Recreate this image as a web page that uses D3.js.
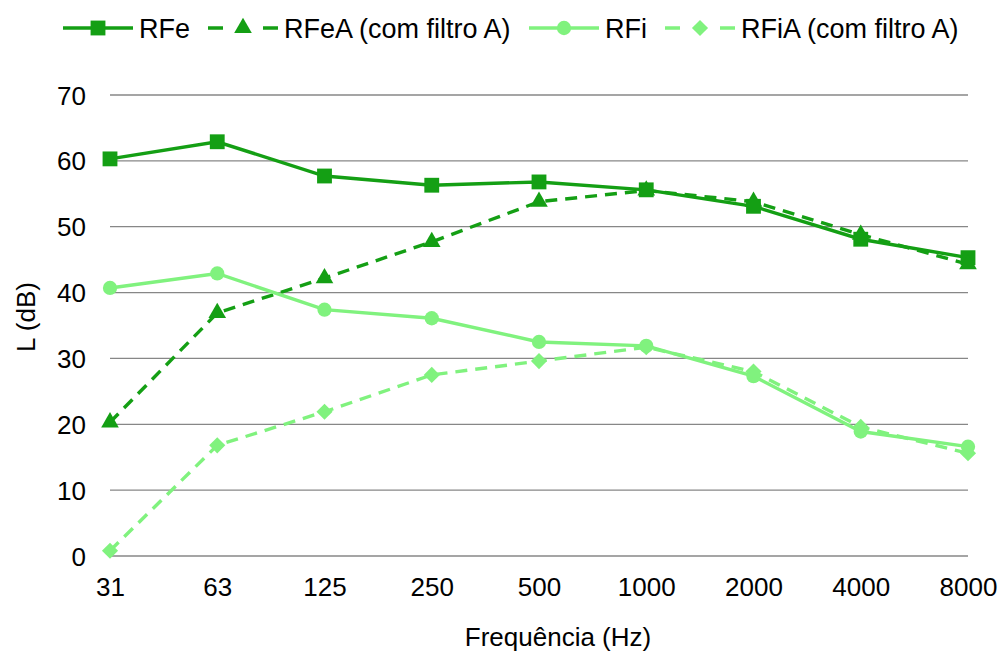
<!DOCTYPE html>
<html><head><meta charset="utf-8">
<script src="https://cdn.jsdelivr.net/npm/d3@7"></script>
<style>body{margin:0;background:#fff;}svg{display:block;font-family:"Liberation Sans",Arial,sans-serif;}</style>
</head><body>
<svg id="c" width="1000" height="651"></svg>
<script>
const categories = ["31","63","125","250","500","1000","2000","4000","8000"];
const rfe  = [60.3, 62.9, 57.7, 56.3, 56.8, 55.6, 53.1, 48.1, 45.3];
const rfeA = [20.3, 36.9, 42.2, 47.7, 53.8, 55.5, 53.8, 48.8, 44.3];
const rfi  = [40.7, 42.9, 37.4, 36.1, 32.5, 31.9, 27.3, 18.9, 16.6];
const rfiA = [0.8, 16.8, 21.9, 27.5, 29.6, 31.7, 28.0, 19.6, 15.6];
const yTicks = [0,10,20,30,40,50,60,70];
const seriesNames = ["RFe","RFeA (com filtro A)","RFi","RFiA (com filtro A)"];

const dark = "#149f14", light = "#80f27e";
const FONT = "Liberation Sans, Arial, sans-serif";
const series = [
  {name: seriesNames[0], values: rfe,  color: dark,  dash: null,   sym: d3.symbolSquare,   size: 220, rot: 0},
  {name: seriesNames[1], values: rfeA, color: dark,  dash: "12,8", sym: d3.symbolTriangle, size: 135, rot: 0},
  {name: seriesNames[2], values: rfi,  color: light, dash: null,   sym: d3.symbolCircle,   size: 160, rot: 0},
  {name: seriesNames[3], values: rfiA, color: light, dash: "12,8", sym: d3.symbolSquare,   size: 130, rot: 45}
];

const svg = d3.select("#c");
const x = d3.scalePoint().domain(categories).range([110, 968]);
const y = d3.scaleLinear().domain([0,70]).range([556, 95]);

// gridlines
svg.append("g").selectAll("line").data(yTicks).join("line")
  .attr("x1", 110).attr("x2", 968)
  .attr("y1", d => y(d)).attr("y2", d => y(d))
  .attr("stroke", "#878787").attr("stroke-width", 1.3);

// y axis labels
const yAxis = svg.append("g").attr("transform", "translate(86,0)")
  .call(d3.axisLeft(y).tickValues(yTicks).tickSize(0).tickPadding(0));
yAxis.select(".domain").remove();
yAxis.attr("font-size", null).attr("font-family", null);
yAxis.selectAll("text").attr("font-size", 26).attr("fill", "#000").attr("font-family", FONT).attr("dy", "0.35em");

// x axis labels
const xAxis = svg.append("g").attr("transform", "translate(0,578)")
  .call(d3.axisBottom(x).tickSize(0).tickPadding(0));
xAxis.select(".domain").remove();
xAxis.attr("font-size", null).attr("font-family", null);
xAxis.selectAll("text").attr("font-size", 26).attr("fill", "#000").attr("font-family", FONT);

// axis titles
svg.append("text").attr("x", 558).attr("y", 646).attr("text-anchor", "middle")
  .attr("font-size", 26).attr("fill", "#000").text("Frequência (Hz)");
svg.append("text").attr("transform", "translate(35,317) rotate(-90)").attr("text-anchor", "middle")
  .attr("font-size", 26).attr("fill", "#000").text("L (dB)");

const line = d3.line().x((d,i) => x(categories[i])).y(d => y(d));

series.forEach(s => {
  svg.append("path").datum(s.values)
    .attr("d", line).attr("fill", "none")
    .attr("stroke", s.color).attr("stroke-width", 3.4)
    .attr("stroke-dasharray", s.dash);
  svg.append("g").selectAll("path").data(s.values).join("path")
    .attr("d", d3.symbol().type(s.sym).size(s.size))
    .attr("transform", (d,i) => `translate(${x(categories[i])},${y(d)}) rotate(${s.rot})`)
    .attr("fill", s.color);
});

// legend
const legendX = [63, 208, 529, 665];
series.forEach((s, i) => {
  const g = svg.append("g").attr("transform", `translate(${legendX[i]},28)`);
  g.append("line").attr("x1", 0).attr("x2", 70).attr("y1", 0).attr("y2", 0)
    .attr("stroke", s.color).attr("stroke-width", 3.4)
    .attr("stroke-dasharray", s.dash ? "15,40" : null);
  g.append("path").attr("d", d3.symbol().type(s.sym).size(s.size))
    .attr("transform", `translate(35,0) rotate(${s.rot})`).attr("fill", s.color);
  g.append("text").attr("x", 76).attr("y", 10).attr("font-size", 27).attr("fill", "#000").text(s.name);
});
</script>
</body></html>
